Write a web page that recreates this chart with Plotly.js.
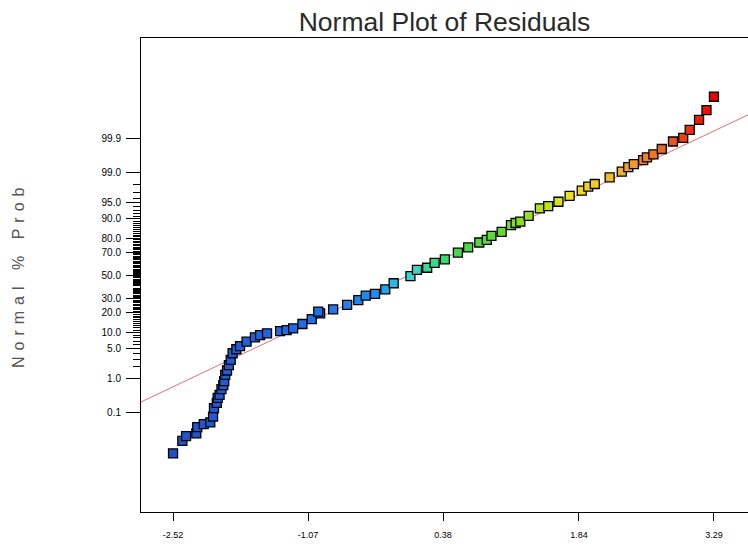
<!DOCTYPE html>
<html><head><meta charset="utf-8">
<script src="https://cdn.plot.ly/plotly-3.0.1.min.js"></script>
<style>html,body{margin:0;padding:0;background:#fff}#chart{width:748px;height:547px}</style>
</head><body><div id="chart"></div>
<script>
// Residuals (x) and their normal scores (z)
const residuals = [-2.52,-2.42,-2.38,-2.27,-2.26,-2.19,-2.12,-2.09,-2.08,-2.05,
  -2.04,-2.02,-2.00,-1.98,-1.97,-1.96,-1.94,-1.92,-1.90,-1.88,
  -1.84,-1.80,-1.73,-1.64,-1.585,-1.51,-1.37,-1.30,-1.23,-1.13,-1.03,-0.94,-0.96,
  -0.80,-0.65,-0.53,-0.45,-0.35,-0.24,-0.15,0.03,0.10,0.21,0.29,
  0.40,0.54,0.65,0.77,0.85,0.90,1.01,1.11,1.16,1.21,1.30,1.42,
  1.51,1.62,1.74,1.87,1.94,2.01,2.17,2.30,2.37,2.43,2.53,2.57,2.64,
  2.73,2.85,2.96,3.03,3.13,3.21,3.29];
const normalScores = [-4.01,-3.73,-3.62,-3.56,-3.42,-3.35,-3.31,-3.18,-2.99,-2.87,
  -2.76,-2.69,-2.56,-2.47,-2.38,-2.24,-2.14,-2.02,-1.90,-1.75,
  -1.66,-1.59,-1.49,-1.39,-1.34,-1.30,-1.25,-1.23,-1.19,-1.09,-0.98,-0.85,-0.81,
  -0.76,-0.66,-0.55,-0.45,-0.41,-0.31,-0.17,-0.01,0.13,0.18,0.29,
  0.37,0.52,0.64,0.75,0.81,0.90,0.99,1.14,1.19,1.22,1.35,1.52,
  1.57,1.67,1.80,1.92,2.01,2.07,2.22,2.35,2.45,2.52,2.61,2.67,2.74,
  2.86,3.03,3.11,3.29,3.52,3.74,4.04];

const probTickPercents = [0.1,1,5,10,20,30,50,70,80,90,95,99,99.9];
const probTickLabels = ['0.1','1.0','5.0','10.0','20.0','30.0','50.0','70.0','80.0','90.0','95.0','99.0','99.9'];
const probMinorPercents = [2,3,4,6,7,8,9,91,92,93,94,96,97,98];
for (let p = 11; p <= 89; p++) { if (p % 10 !== 0 && p !== 50) probMinorPercents.push(p); }

const xTickVals = [-2.52,-1.07,0.38,1.84,3.29];
const xTickText = ['-2.52','-1.07','0.38','1.84','3.29'];
const xRange = [-2.864, 3.656];
const zRange = [-5.334, 5.366];
const fitSlope = 0.994, fitIntercept = -0.003;

// inverse standard normal CDF (Acklam)
function probit(p){
  const a=[-3.969683028665376e+01,2.209460984245205e+02,-2.759285104469687e+02,1.383577518672690e+02,-3.066479806614716e+01,2.506628277459239e+00];
  const b=[-5.447609879822406e+01,1.615858368580409e+02,-1.556989798598866e+02,6.680131188771972e+01,-1.328068155288572e+01];
  const c=[-7.784894002430293e-03,-3.223964580411365e-01,-2.400758277161838e+00,-2.549732539343734e+00,4.374664141464968e+00,2.938163982698783e+00];
  const d=[7.784695709041462e-03,3.224671290700398e-01,2.445134137142996e+00,3.754408661907416e+00];
  const pl=0.02425, ph=1-pl; let q,r;
  if(p<pl){q=Math.sqrt(-2*Math.log(p));return (((((c[0]*q+c[1])*q+c[2])*q+c[3])*q+c[4])*q+c[5])/((((d[0]*q+d[1])*q+d[2])*q+d[3])*q+1);}
  if(p<=ph){q=p-0.5;r=q*q;return (((((a[0]*r+a[1])*r+a[2])*r+a[3])*r+a[4])*r+a[5])*q/(((((b[0]*r+b[1])*r+b[2])*r+b[3])*r+b[4])*r+1);}
  q=Math.sqrt(-2*Math.log(1-p));return -(((((c[0]*q+c[1])*q+c[2])*q+c[3])*q+c[4])*q+c[5])/((((d[0]*q+d[1])*q+d[2])*q+d[3])*q+1);
}

const colorscale = [[0,'#2050c8'],[0.26,'#2070e8'],[0.38,'#2090f0'],[0.43,'#30d8e0'],[0.52,'#40d850'],[0.62,'#70d830'],[0.69,'#c0e020'],[0.74,'#f0e020'],[0.83,'#f0b030'],[0.91,'#f06020'],[1,'#f00000']];

const font = 'Liberation Sans, Arial, sans-serif';
const traces = [
  {x: xRange, y: xRange.map(v => fitSlope*v + fitIntercept), mode:'lines', line:{color:'#e87070', width:1}, hoverinfo:'skip', showlegend:false},
  {x: residuals, y: normalScores, mode:'markers', showlegend:false,
   marker:{symbol:'square', size:9, color: residuals, colorscale: colorscale, cmin:-2.52, cmax:3.29, line:{color:'#000', width:1.3}}}
];

const layout = {
  width:748, height:547,
  margin:{l:141, r:0, t:38, b:35, pad:0},
  paper_bgcolor:'#fff', plot_bgcolor:'#fff',
  title:{text:'Normal Plot of Residuals', font:{family:font, size:26.5, color:'#2a2a2a'}, x:0.5, xref:'paper', xanchor:'center', y:1-22/547, yref:'container', yanchor:'middle'},
  xaxis:{range:xRange, showline:true, linecolor:'#000', linewidth:1, mirror:true, ticks:'outside', ticklen:8, tickcolor:'#000', tickwidth:1,
    tickmode:'array', tickvals:xTickVals, ticktext:xTickText, tickfont:{family:font, size:9, color:'#000'}, ticklabelstandoff:6, showgrid:false, zeroline:false},
  yaxis:{range:zRange, showline:true, linecolor:'#000', linewidth:1, mirror:false, ticks:'outside', ticklen:14, tickcolor:'#000', tickwidth:1,
    tickmode:'array', tickvals:probTickPercents.map(p=>probit(p/100)), ticktext:probTickLabels, tickfont:{family:font, size:10, color:'#000'},
    ticklabelstandoff:3, showgrid:false, zeroline:false,
    minor:{tickmode:'array', tickvals:probMinorPercents.map(p=>probit(p/100)), ticks:'outside', ticklen:7, tickcolor:'#000', tickwidth:1, showgrid:false}},
  annotations:[{text:'Normal % Prob', xref:'paper', yref:'paper', x:(18-141)/607, y:0.5, xanchor:'center', yanchor:'middle', textangle:-90, showarrow:false,
    font:{family:font, size:16, color:'#555'}}]
};

Plotly.newPlot('chart', traces, layout, {displayModeBar:false, staticPlot:true}).then(()=>{
  const t = document.querySelector('.annotation-text');
  if (t) t.style.letterSpacing = '6px';
});
</script>
</body></html>
